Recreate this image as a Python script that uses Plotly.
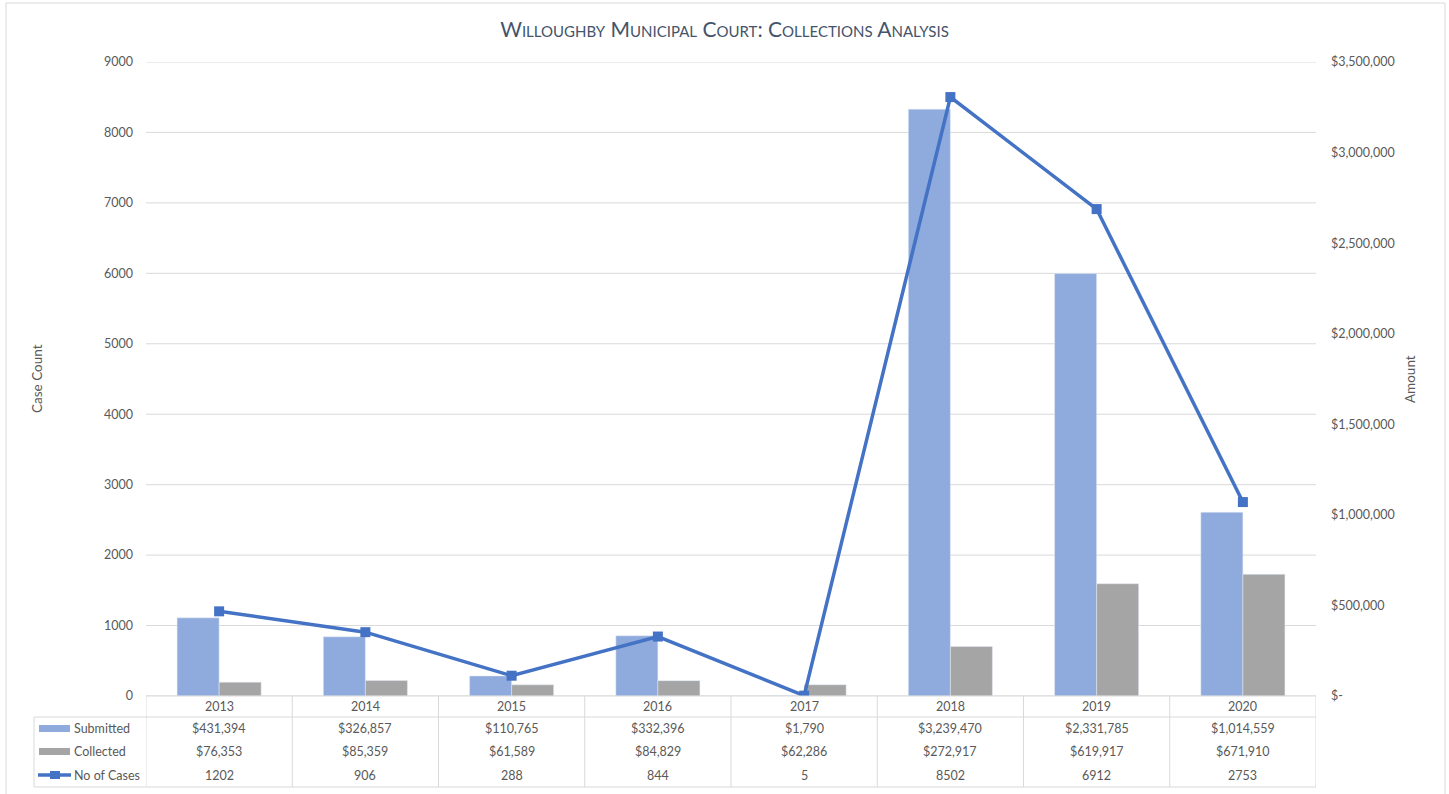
import plotly.graph_objects as go

# ---- data ----
years = ["2013", "2014", "2015", "2016", "2017", "2018", "2019", "2020"]
submitted = [431394, 326857, 110765, 332396, 1790, 3239470, 2331785, 1014559]
collected = [76353, 85359, 61589, 84829, 62286, 272917, 619917, 671910]
cases = [1202, 906, 288, 844, 5, 8502, 6912, 2753]
case_ticks = [0, 1000, 2000, 3000, 4000, 5000, 6000, 7000, 8000, 9000]
amount_ticks = [0, 500000, 1000000, 1500000, 2000000, 2500000, 3000000, 3500000]
series_names = ["Submitted", "Collected", "No of Cases"]

C_SUB = "#8FAADC"
C_COL = "#A5A5A5"
C_LINE = "#4472C4"
C_GRID = "#D9D9D9"
C_TXT = "#595959"
FONT = "Lato"

W, H = 1449, 794
L, R, T, B = 146, 1316, 62, 696
PW, PH = R - L, B - T


def px(xp):
    return (xp - L) / PW


def py(yp):
    return (B - yp) / PH


fig = go.Figure()
fig.add_trace(go.Bar(x=years, y=submitted, name=series_names[0], marker_color=C_SUB,
                     yaxis="y", showlegend=False))
fig.add_trace(go.Bar(x=years, y=collected, name=series_names[1], marker_color=C_COL,
                     yaxis="y", showlegend=False))
fig.add_trace(go.Scatter(x=years, y=cases, name=series_names[2], mode="lines+markers",
                         line=dict(color=C_LINE, width=3.5),
                         marker=dict(symbol="square", size=10, color=C_LINE),
                         yaxis="y2", showlegend=False))

shapes = []
# gridlines (case count axis)
for v in case_ticks:
    shapes.append(dict(type="line", xref="paper", yref="y2", x0=0, x1=1, y0=v, y1=v,
                       line=dict(color=C_GRID, width=1), layer="below"))
# table lines
line_style = dict(color=C_GRID, width=1)
shapes.append(dict(type="line", xref="paper", yref="paper", x0=0, x1=1, y0=py(696), y1=py(696), line=line_style))
shapes.append(dict(type="line", xref="paper", yref="paper", x0=px(34), x1=1, y0=py(717), y1=py(717), line=line_style))
shapes.append(dict(type="line", xref="paper", yref="paper", x0=px(34), x1=1, y0=py(787), y1=py(787), line=line_style))
shapes.append(dict(type="line", xref="paper", yref="paper", x0=px(34), x1=px(34), y0=py(717), y1=py(787), line=line_style))
for i in range(len(years) + 1):
    shapes.append(dict(type="line", xref="x", yref="paper", x0=i - 0.5, x1=i - 0.5,
                       y0=py(696), y1=py(787), line=line_style))
# legend keys
shapes.append(dict(type="rect", xref="paper", yref="paper", x0=px(39), x1=px(70), y0=py(725), y1=py(732),
                   fillcolor=C_SUB, line=dict(width=0)))
shapes.append(dict(type="rect", xref="paper", yref="paper", x0=px(39), x1=px(70), y0=py(748), y1=py(755),
                   fillcolor=C_COL, line=dict(width=0)))
shapes.append(dict(type="line", xref="paper", yref="paper", x0=px(38), x1=px(71), y0=py(775), y1=py(775),
                   line=dict(color=C_LINE, width=3.5)))
shapes.append(dict(type="rect", xref="paper", yref="paper", x0=px(50), x1=px(60), y0=py(771), y1=py(779),
                   fillcolor=C_LINE, line=dict(width=0)))
# outer border
shapes.append(dict(type="rect", xref="paper", yref="paper", x0=px(6), x1=px(1445), y0=py(3), y1=py(810),
                   line=dict(color=C_GRID, width=1), fillcolor="rgba(0,0,0,0)"))

ann = []
tfont = dict(family=FONT, size=12.5, color=C_TXT)


def cell(i, yp, text):
    return dict(x=i, xref="x", y=py(yp), yref="paper", text=text, showarrow=False,
                xanchor="center", yanchor="middle", font=tfont)


for i, yr in enumerate(years):
    ann.append(cell(i, 707, yr))
    ann.append(cell(i, 729, f"${submitted[i]:,}"))
    ann.append(cell(i, 752, f"${collected[i]:,}"))
    ann.append(cell(i, 775, f"{cases[i]}"))
for name, yp in zip(series_names, [729, 752, 775]):
    ann.append(dict(x=px(72), xref="paper", xanchor="left", y=py(yp), yref="paper", yanchor="middle",
                    text=name, showarrow=False, font=tfont))
ann.append(dict(x=px(37), xref="paper", xanchor="center", y=0.5, yref="paper", yanchor="middle",
                text="Case Count", textangle=-90, showarrow=False,
                font=dict(family=FONT, size=13.5, color=C_TXT)))
ann.append(dict(x=px(1410), xref="paper", xanchor="center", y=0.5, yref="paper", yanchor="middle",
                text="Amount", textangle=-90, showarrow=False,
                font=dict(family=FONT, size=13.5, color=C_TXT)))

fig.update_layout(
    width=W, height=H,
    margin=dict(l=L, r=W - R, t=T, b=H - B),
    paper_bgcolor="white", plot_bgcolor="white",
    barmode="group", bargap=0.425, bargroupgap=0,
    title=dict(text="Willoughby Municipal Court: Collections Analysis",
               font=dict(family=FONT, size=21, color="#44546A", variant="small-caps"),
               x=0.5, xref="container", xanchor="center",
               y=1 - 30 / H, yref="container", yanchor="middle"),
    xaxis=dict(type="category", range=[-0.5, len(years) - 0.5], showticklabels=False,
               showgrid=False, zeroline=False, showline=False, fixedrange=True),
    yaxis=dict(side="right", range=[0, 3500000], tickvals=amount_ticks,
               ticktext=["$-" if v == 0 else f"${v:,}" for v in amount_ticks],
               showgrid=False, zeroline=False, showline=False, ticks="",
               ticklabelstandoff=14, tickfont=tfont),
    yaxis2=dict(side="left", overlaying="y", range=[0, 9000], tickvals=case_ticks,
                showgrid=False, zeroline=False, showline=False, ticks="",
                ticklabelstandoff=12, tickfont=tfont),
    shapes=shapes, annotations=ann,
    font=dict(family=FONT, color=C_TXT),
)

fig.write_html("out.html", config={"displayModeBar": False},
               post_script="document.body.style.margin='0';document.body.style.overflow='hidden';")
